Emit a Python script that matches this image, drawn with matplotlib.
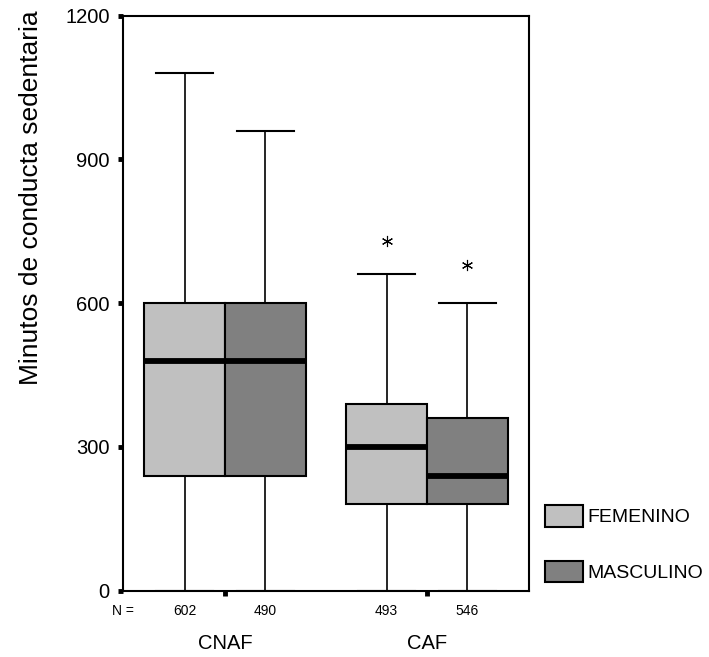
import numpy as np
import matplotlib
matplotlib.use("Agg")
import matplotlib.pyplot as plt
from matplotlib.patches import Patch
from matplotlib.transforms import blended_transform_factory

plt.rcParams['font.family'] = ['Liberation Sans', 'DejaVu Sans']

# data
groups = ["CNAF", "CAF"]
sexes = ["FEMENINO", "MASCULINO"]
n_counts = [[602, 490], [493, 546]]
q1 = [[240, 240], [180, 180]]
medians = [[480, 480], [300, 240]]
q3 = [[600, 600], [390, 360]]
whis_lo = [[0, 0], [0, 0]]
whis_hi = [[1080, 960], [660, 600]]
outliers = [[[], []], [[730], [680]]]
colors = {"FEMENINO": "#c0c0c0", "MASCULINO": "#808080"}
yticks = [0, 300, 600, 900, 1200]

fig = plt.figure(figsize=(7.09, 6.57), dpi=100)
ax = fig.add_axes([0.1735, 0.1009, 0.5726, 0.8752])

group_pos = np.arange(1, len(groups) + 1)
offsets = [-0.2, 0.2]

stats, positions, facecols = [], [], []
for g in range(len(groups)):
    for s in range(len(sexes)):
        stats.append(dict(med=medians[g][s], q1=q1[g][s], q3=q3[g][s],
                          whislo=whis_lo[g][s], whishi=whis_hi[g][s],
                          fliers=outliers[g][s]))
        positions.append(group_pos[g] + offsets[s])
        facecols.append(colors[sexes[s]])

bp = ax.bxp(stats, positions=positions, widths=0.4, capwidths=0.28,
            patch_artist=True, showfliers=True,
            boxprops=dict(edgecolor="black", linewidth=1.5),
            medianprops=dict(color="black", linewidth=4.2, solid_capstyle="butt"),
            whiskerprops=dict(color="black", linewidth=1.2),
            capprops=dict(color="black", linewidth=1.5),
            flierprops=dict(marker=(6, 2, 0), markersize=8, markeredgewidth=0.8,
                            markeredgecolor="black", markerfacecolor="none"))
for box, c in zip(bp["boxes"], facecols):
    box.set_facecolor(c)

ax.set_xlim(0.495, 2.505)
ax.set_ylim(0, 1200)
ax.set_yticks(yticks)
ax.set_yticklabels([str(v) for v in yticks], fontsize=14.5)
ax.set_xticks(group_pos)
ax.set_xticklabels([])
ax.tick_params(axis="both", direction="out", length=3.5, width=3.5, pad=6)
for sp in ax.spines.values():
    sp.set_linewidth(1.5)

trans = blended_transform_factory(ax.transData, ax.transAxes)
ax.text(0.0, -0.0353, "N =", transform=ax.transAxes, ha="center", va="center", fontsize=10)
for g in range(len(groups)):
    for s in range(len(sexes)):
        ax.text(group_pos[g] + offsets[s], -0.0353, str(n_counts[g][s]),
                transform=trans, ha="center", va="center", fontsize=10)
    ax.text(group_pos[g], -0.091, groups[g], transform=trans,
            ha="center", va="center", fontsize=14.5)

fig.text(31 / 709, 1 - 198 / 657, "Minutos de conducta sedentaria",
         rotation=90, ha="center", va="center", fontsize=19)

handles = [Patch(facecolor=colors[s], edgecolor="black", linewidth=1.5) for s in sexes]
fig.legend(handles, sexes, loc="upper left", bbox_to_anchor=(545 / 709, 1 - 505 / 657),
           frameon=False, fontsize=14, borderpad=0, borderaxespad=0,
           handlelength=1.95, handleheight=1.34, handletextpad=0.25, labelspacing=1.75)

fig.savefig("out.png", dpi=100)
